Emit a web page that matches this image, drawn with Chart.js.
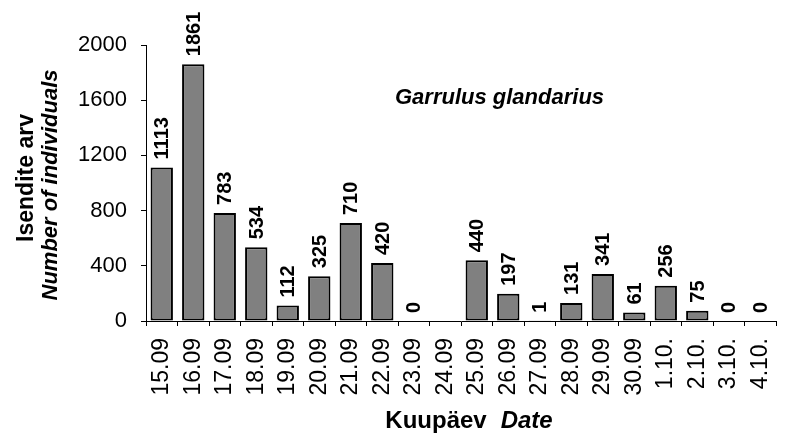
<!DOCTYPE html>
<html>
<head>
<meta charset="utf-8">
<title>Garrulus glandarius</title>
<script src="https://cdn.jsdelivr.net/npm/chart.js@4/dist/chart.umd.min.js"></script>
<style>
  html, body { margin: 0; padding: 0; background: #fff; overflow: hidden; }
  #wrap { width: 800px; height: 433px; }
</style>
</head>
<body>
<div id="wrap"><canvas id="grfc_garrulus" width="800" height="433"></canvas></div>
<script>
// data
var kuupaevad = ["15.09", "16.09", "17.09", "18.09", "19.09", "20.09", "21.09", "22.09", "23.09", "24.09",
                 "25.09", "26.09", "27.09", "28.09", "29.09", "30.09", "1.10.", "2.10.", "3.10.", "4.10."];
var isendid = [1113, 1861, 783, 534, 112, 325, 710, 420, 0, null,
               440, 197, 1, 131, 341, 61, 256, 75, 0, 0];
var yTicks = [0, 400, 800, 1200, 1600, 2000];

var fontName = "'Liberation Sans', Arial, sans-serif";

// numbers above bars + titles
var tekstid = {
    id: "tekstid",
    afterDatasetsDraw: function (chart) {
        var ctx = chart.ctx;
        var meta = chart.getDatasetMeta(0);
        ctx.save();
        ctx.fillStyle = "#000";
        ctx.font = "bold 20px " + fontName;
        ctx.textAlign = "left";
        ctx.textBaseline = "middle";
        meta.data.forEach(function (bar, i) {
            var v = isendid[i];
            if (v === null) return;
            ctx.save();
            ctx.translate(bar.x + 1, bar.y - 8);
            ctx.rotate(-Math.PI / 2);
            ctx.fillText(String(v), 0, 0);
            ctx.restore();
        });
        ctx.restore();
    },
    afterDraw: function (chart) {
        var ctx = chart.ctx;
        ctx.save();
        ctx.fillStyle = "#000";

        // species name
        ctx.font = "italic bold 22px " + fontName;
        ctx.textAlign = "left";
        ctx.textBaseline = "alphabetic";
        ctx.fillText("Garrulus glandarius", 395, 104);

        // x title
        var b = "bold 24px " + fontName;
        var bi = "italic bold 24px " + fontName;
        ctx.font = b;
        var w1 = ctx.measureText("Kuupäev").width;
        ctx.font = bi;
        var w2 = ctx.measureText("Date").width;
        var gap = 14;
        var x0 = 469 - (w1 + gap + w2) / 2;
        ctx.font = b;
        ctx.fillText("Kuupäev", x0, 428);
        ctx.font = bi;
        ctx.fillText("Date", x0 + w1 + gap, 428);

        // y title
        ctx.textAlign = "center";
        ctx.textBaseline = "middle";
        ctx.save();
        ctx.translate(27, 178);
        ctx.rotate(-Math.PI / 2);
        ctx.font = "bold 23px " + fontName;
        ctx.fillText("Isendite arv", 0, 0);
        ctx.restore();
        ctx.save();
        ctx.translate(51, 185);
        ctx.rotate(-Math.PI / 2);
        ctx.font = "italic bold 22px " + fontName;
        ctx.fillText("Number of individuals", 0, 0);
        ctx.restore();

        ctx.restore();
    }
};

var ctx1 = document.getElementById("grfc_garrulus").getContext("2d");
var myChart1 = new Chart(ctx1, {
    type: "bar",
    data: {
        labels: kuupaevad,
        datasets: [{
            label: "Garrulus glandarius",
            data: isendid,
            backgroundColor: "#808080",
            borderColor: "#000",
            borderWidth: function (c) { return c.raw > 0 ? 2 : 0; },
            borderSkipped: false,
            barPercentage: 0.71,
            categoryPercentage: 1
        }]
    },
    options: {
        responsive: false,
        animation: false,
        layout: { padding: { left: 0, right: 4.5, top: 45, bottom: 0 } },
        plugins: {
            legend: { display: false },
            tooltip: { enabled: false }
        },
        scales: {
            x: {
                offset: true,
                grid: { offset: true, drawOnChartArea: false, drawTicks: true, tickLength: 5, color: "#000" },
                border: { color: "#000", width: 1 },
                ticks: {
                    minRotation: 90, maxRotation: 90, autoSkip: false, padding: 12,
                    color: "#000", font: { family: fontName, size: 23 }
                },
                afterFit: function (s) { s.height = 112; }
            },
            y: {
                min: 0, max: 2000,
                afterBuildTicks: function (s) {
                    s.ticks = yTicks.map(function (v) { return { value: v }; });
                },
                grid: { drawOnChartArea: false, drawTicks: true, tickLength: 5, color: "#000" },
                border: { color: "#000", width: 1 },
                ticks: {
                    padding: 14, color: "#000", font: { family: fontName, size: 22 },
                    callback: function (v) { return String(v); }
                },
                afterFit: function (s) { s.width = 146; }
            }
        }
    },
    plugins: [tekstid]
});
</script>
</body>
</html>
